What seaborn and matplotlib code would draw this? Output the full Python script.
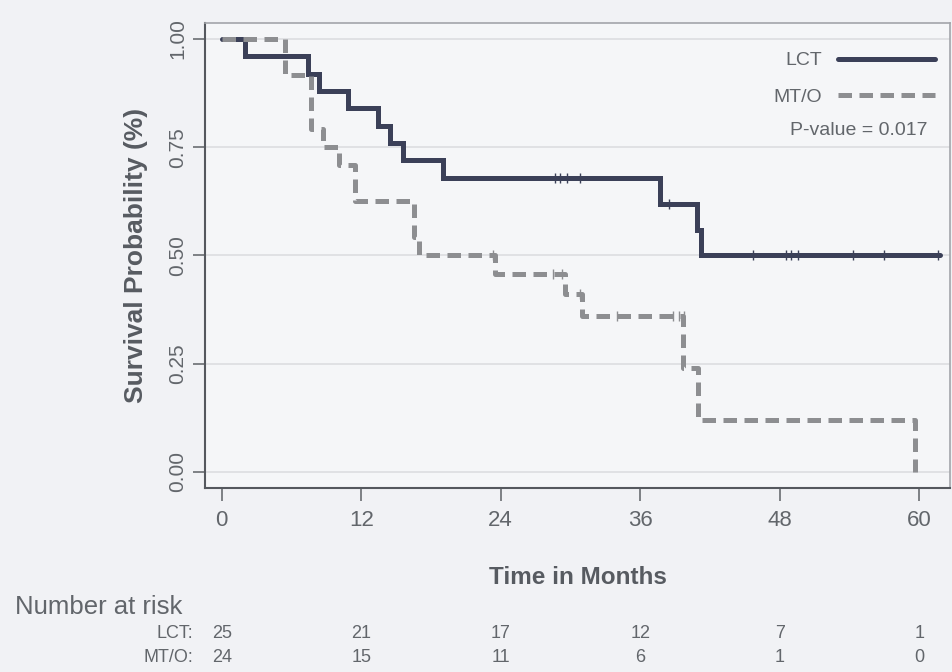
import matplotlib
matplotlib.use("Agg")
import matplotlib.pyplot as plt
import matplotlib.transforms as mtransforms
from matplotlib.lines import Line2D
import seaborn as sns

# --- datos ---
# LCT (linea continua)
tiempos_lct = [0, 2.0, 7.4, 8.4, 10.9, 13.4, 14.5, 15.6, 19.0, 37.7, 40.9, 41.2, 61.8]
superv_lct = [1.0, 0.96, 0.92, 0.88, 0.84, 0.80, 0.76, 0.72, 0.68, 0.62, 0.56, 0.50, 0.50]
censura_lct_t = [28.7, 29.1, 29.7, 30.8, 38.5, 45.7, 48.5, 49.0, 49.6, 54.3, 57.0, 61.6]
censura_lct_s = [0.68, 0.68, 0.68, 0.68, 0.62, 0.50, 0.50, 0.50, 0.50, 0.50, 0.50, 0.50]

# MT/O (linea discontinua)
tiempos_mto = [0, 5.4, 7.7, 8.7, 10.1, 11.5, 16.5, 17.0, 23.5, 29.5, 31.0, 39.7, 41.0, 59.6]
superv_mto = [1.0, 0.917, 0.792, 0.75, 0.708, 0.625, 0.542, 0.50, 0.458, 0.41, 0.36, 0.24, 0.12, 0.0]
censura_mto_t = [23.3, 28.5, 29.3, 30.8, 34.0, 38.8, 39.3, 39.8]
censura_mto_s = [0.50, 0.458, 0.458, 0.41, 0.36, 0.36, 0.36, 0.36]

# tabla "Number at risk"
tiempos_riesgo = [0, 12, 24, 36, 48, 60]
riesgo_lct = [25, 21, 17, 12, 7, 1]
riesgo_mto = [24, 15, 11, 6, 1, 0]

grupos = ["LCT", "MT/O"]
p_valor = "P-value = 0.017"

# --- estilo ---
COLOR_LCT = "#3b4058"
COLOR_MTO = "#8d8e91"
GRIS_TEXTO = "#62666b"

sns.set_style("white")
plt.rcParams['font.family'] = ['Liberation Sans', 'DejaVu Sans']

fig = plt.figure(figsize=(9.53, 6.72), dpi=100, facecolor="#f1f2f5")
ax = fig.add_axes([205 / 953, 1 - 488 / 672, 745 / 953, 465 / 672])
ax.set_facecolor("#f5f6f8")

# curvas Kaplan-Meier
sns.lineplot(x=tiempos_lct, y=superv_lct, drawstyle="steps-post", estimator=None,
             sort=False, color=COLOR_LCT, linewidth=3.6, ax=ax)
sns.lineplot(x=tiempos_mto, y=superv_mto, drawstyle="steps-post", estimator=None,
             sort=False, color=COLOR_MTO, linewidth=3.6, linestyle="--", ax=ax)
ax.lines[1].set_dashes([2.7, 1.5])
for ln in ax.lines:
    ln.set_dash_capstyle("butt")
    ln.set_solid_joinstyle("miter")

# marcas de censura
sns.scatterplot(x=censura_lct_t, y=censura_lct_s, marker="|", s=55, color=COLOR_LCT,
                linewidth=1.0, ax=ax, zorder=3)
sns.scatterplot(x=censura_mto_t, y=censura_mto_s, marker="|", s=55, color=COLOR_MTO,
                linewidth=1.0, ax=ax, zorder=3)

# ejes
ax.set_xlim(-1.44, 62.65)
ax.set_ylim(-0.037, 1.037)
ax.set_xticks(tiempos_riesgo)
ax.set_yticks([0, 0.25, 0.5, 0.75, 1.0])
ax.set_yticklabels(["0.00", "0.25", "0.50", "0.75", "1.00"], rotation=90, va="center")
ax.yaxis.grid(True, color="#dcdde1", linewidth=1.2)
ax.set_axisbelow(True)

ax.tick_params(axis="both", direction="out", length=9, width=1.2, color="#6a6d72",
               labelcolor=GRIS_TEXTO, left=True, bottom=True)
ax.tick_params(axis="x", labelsize=16, pad=7)
ax.tick_params(axis="y", labelsize=15, pad=4)

for lado in ["left", "bottom"]:
    ax.spines[lado].set_color("#55585e")
    ax.spines[lado].set_linewidth(1.5)
for lado in ["top", "right"]:
    ax.spines[lado].set_color("#a3a5aa")
    ax.spines[lado].set_linewidth(1.2)

ax.set_xlabel("Time in Months", fontsize=17.5, weight="bold", color="#575b61", labelpad=25)
ax.set_ylabel("Survival Probability (%)", fontsize=19, weight="bold", color="#575b61", labelpad=14)

# leyenda (texto a la izquierda, linea a la derecha)
h1 = Line2D([], [], color=COLOR_LCT, linewidth=3.6)
h2 = Line2D([], [], color=COLOR_MTO, linewidth=3.6, dashes=[2.7, 1.5], dash_capstyle="butt")
leg = ax.legend(handles=[h1, h2], labels=grupos, loc="upper right", bbox_to_anchor=(0.98, 0.938),
                markerfirst=False, frameon=False, fontsize=14, handlelength=5.0,
                handletextpad=0.8, labelspacing=0.95, borderaxespad=0, borderpad=0)
for t in leg.get_texts():
    t.set_color(GRIS_TEXTO)
ax.text(0.97, 0.769, p_valor, transform=ax.transAxes, ha="right", va="center",
        fontsize=14, color=GRIS_TEXTO)

# tabla de numero en riesgo
trans = mtransforms.blended_transform_factory(ax.transData, fig.transFigure)
fig.text(15 / 953, 1 - 607 / 672, "Number at risk", ha="left", va="center",
         fontsize=18.5, color=GRIS_TEXTO)
fig.text(193 / 953, 1 - 633 / 672, grupos[0] + ":", ha="right", va="center",
         fontsize=13, color=GRIS_TEXTO)
fig.text(193 / 953, 1 - 657 / 672, grupos[1] + ":", ha="right", va="center",
         fontsize=13, color=GRIS_TEXTO)
for t, n1, n2 in zip(tiempos_riesgo, riesgo_lct, riesgo_mto):
    ax.text(t, 1 - 633 / 672, str(n1), transform=trans, ha="center", va="center",
            fontsize=13, color=GRIS_TEXTO)
    ax.text(t, 1 - 657 / 672, str(n2), transform=trans, ha="center", va="center",
            fontsize=13, color=GRIS_TEXTO)

fig.savefig("out.png", dpi=100, facecolor=fig.get_facecolor())
